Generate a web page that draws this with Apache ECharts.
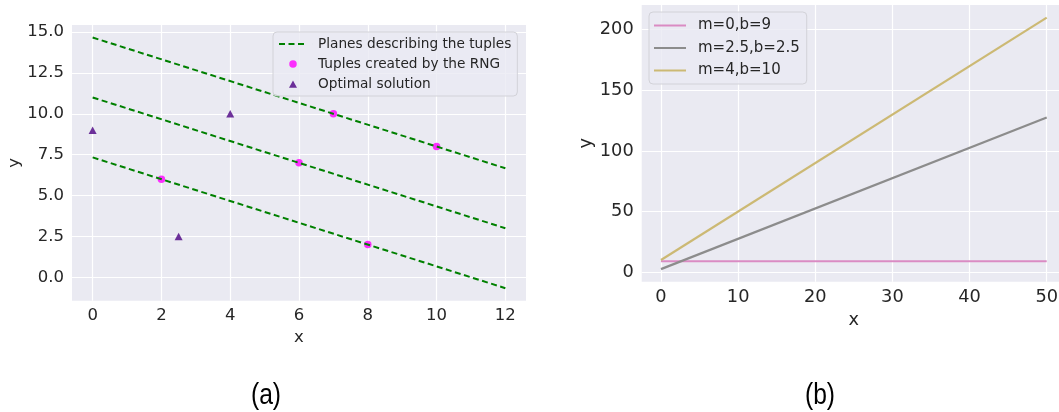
<!DOCTYPE html>
<html>
<head>
<meta charset="utf-8">
<script src="https://cdn.jsdelivr.net/npm/echarts@6/dist/echarts.min.js"></script>
<style>
  html, body { margin: 0; padding: 0; background: #ffffff; }
  #chart { width: 1059px; height: 412px; }
</style>
</head>
<body>
<div id="chart"></div>
<script>
// ---- Panel (a): tuples, planes and optimal solutions ----
const planeTop = [[0, 14.667], [12, 6.667]];
const planeMid = [[0, 11.0], [12, 3.0]];
const planeLow = [[0, 7.333], [12, -0.667]];
const rngTuples = [[2, 6], [6, 7], [7, 10], [8, 2], [10, 8]];
const optimal = [[0, 9], [2.5, 2.5], [4, 10]];
const xTicksA = [0, 2, 4, 6, 8, 10, 12];
const yTicksA = [0, 2.5, 5, 7.5, 10, 12.5, 15];

// ---- Panel (b): lines y = m*x + b ----
const lineM0 = [[0, 9], [50, 9]];
const lineM25 = [[0, 2.5], [50, 127.5]];
const lineM4 = [[0, 10], [50, 210]];
const xTicksB = [0, 10, 20, 30, 40, 50];
const yTicksB = [0, 50, 100, 150, 200];

const FONT = 'DejaVu Sans';
const INK = '#262626';
const PANEL_BG = '#EAEAF2';

// Legend glyphs. Each path carries a tiny anchor rect at its far edge so the
// glyph keeps its width inside the legend slot and the label sits after a gap.
const ICON_DASH = 'path://M0,0h6v2h-6z M9.5,0h6v2h-6z M19,0h6v2h-6z M34,0h0.01v2h-0.01z';
const ICON_DOT = 'path://M0,0h0.01v0.01h-0.01z M10.25,4a3.75,3.75 0 1,0 7.5,0a3.75,3.75 0 1,0 -7.5,0z M34,8h0.01v-0.01h-0.01z';
const ICON_TRI = 'path://M0,0h0.01v0.01h-0.01z M10,7.7L14,0.5L18,7.7z M34,8h0.01v-0.01h-0.01z';
const ICON_LINE = 'path://M0,0h32v2.2h-32z M39,0h0.01v2.2h-0.01z';

function axisCommon(ticks, fontSize, fmt, margin) {
  return {
    axisLine: { show: false },
    axisTick: { show: false, customValues: ticks },
    axisLabel: {
      customValues: ticks,
      color: INK, fontFamily: FONT, fontSize: fontSize, margin: margin,
      formatter: fmt
    },
    splitLine: { show: true, lineStyle: { color: '#ffffff', width: 1.2 } }
  };
}

const chart = echarts.init(document.getElementById('chart'), null, { renderer: 'canvas' });

chart.setOption({
  animation: false,
  backgroundColor: '#ffffff',
  grid: [
    { left: 72, top: 25, width: 454, height: 275.7, outerBoundsMode: 'none',
      show: true, backgroundColor: PANEL_BG, borderWidth: 0 },
    { left: 641.7, top: 5, width: 424.3, height: 276.7, outerBoundsMode: 'none',
      show: true, backgroundColor: PANEL_BG, borderWidth: 0 }
  ],
  xAxis: [
    Object.assign({
      type: 'value', gridIndex: 0, min: -0.6, max: 12.6,
      name: 'x', nameLocation: 'middle', nameGap: 21,
      nameTextStyle: { color: INK, fontFamily: FONT, fontSize: 16.5 }
    }, axisCommon(xTicksA, 16.5, v => String(v), 7)),
    Object.assign({
      type: 'value', gridIndex: 1, min: -2.5, max: 52.5,
      name: 'x', nameLocation: 'middle', nameGap: 30,
      nameTextStyle: { color: INK, fontFamily: FONT, fontSize: 17.8 }
    }, axisCommon(xTicksB, 17.8, v => String(v), 7))
  ],
  yAxis: [
    Object.assign({
      type: 'value', gridIndex: 0, min: -1.433, max: 15.433,
      name: 'y', nameLocation: 'middle', nameGap: 46,
      nameTextStyle: { color: INK, fontFamily: FONT, fontSize: 16.5 }
    }, axisCommon(yTicksA, 16.5, v => v.toFixed(1), 8)),
    Object.assign({
      type: 'value', gridIndex: 1, min: -7.875, max: 220.375,
      name: 'y', nameLocation: 'middle', nameGap: 46,
      nameTextStyle: { color: INK, fontFamily: FONT, fontSize: 17.8 }
    }, axisCommon(yTicksB, 17.8, v => String(v), 8))
  ],
  legend: [
    {
      orient: 'vertical', left: 273, top: 32,
      padding: [4, 6, 4, 6], itemGap: 4, itemWidth: 34, itemHeight: 8,
      backgroundColor: 'rgba(234,234,242,0.8)', borderColor: '#d2d2d8', borderWidth: 1, borderRadius: 4,
      textStyle: { color: INK, fontFamily: FONT, fontSize: 13.7, lineHeight: 16 },
      data: [
        { name: 'Planes describing the tuples', icon: ICON_DASH, itemStyle: { color: '#008000' } },
        { name: 'Tuples created by the RNG', icon: ICON_DOT, itemStyle: { color: '#FF00FF' } },
        { name: 'Optimal solution', icon: ICON_TRI, itemStyle: { color: '#4B0082' } }
      ]
    },
    {
      orient: 'vertical', left: 649, top: 12,
      padding: [5, 7, 5, 5], itemGap: 5.5, itemWidth: 39, itemHeight: 8,
      backgroundColor: 'rgba(234,234,242,0.8)', borderColor: '#d2d2d8', borderWidth: 1, borderRadius: 4,
      textStyle: { color: INK, fontFamily: FONT, fontSize: 15, lineHeight: 17 },
      data: [
        { name: 'm=0,b=9', icon: ICON_LINE, itemStyle: { color: '#DA8BC3' } },
        { name: 'm=2.5,b=2.5', icon: ICON_LINE, itemStyle: { color: '#8C8C8C' } },
        { name: 'm=4,b=10', icon: ICON_LINE, itemStyle: { color: '#CCB974' } }
      ]
    }
  ],
  series: [
    // panel (a)
    {
      name: 'Tuples created by the RNG', type: 'scatter', xAxisIndex: 0, yAxisIndex: 0,
      data: rngTuples, symbol: 'circle', symbolSize: 7.5,
      itemStyle: { color: '#FF00FF' }, z: 2
    },
    {
      name: 'Optimal solution', type: 'scatter', xAxisIndex: 0, yAxisIndex: 0,
      data: optimal, symbol: 'triangle', symbolSize: [8, 7.5],
      itemStyle: { color: '#4B0082' }, z: 2
    },
    ...[planeTop, planeMid, planeLow].map(d => ({
      name: 'Planes describing the tuples', type: 'line', xAxisIndex: 0, yAxisIndex: 0,
      data: d, symbol: 'none', z: 3,
      lineStyle: { color: '#008000', width: 2, type: [6, 3.5] },
      itemStyle: { color: '#008000' }
    })),
    // panel (b)
    {
      name: 'm=0,b=9', type: 'line', xAxisIndex: 1, yAxisIndex: 1, data: lineM0, symbol: 'none',
      lineStyle: { color: '#DA8BC3', width: 2.2 }, itemStyle: { color: '#DA8BC3' }
    },
    {
      name: 'm=2.5,b=2.5', type: 'line', xAxisIndex: 1, yAxisIndex: 1, data: lineM25, symbol: 'none',
      lineStyle: { color: '#8C8C8C', width: 2.2 }, itemStyle: { color: '#8C8C8C' }
    },
    {
      name: 'm=4,b=10', type: 'line', xAxisIndex: 1, yAxisIndex: 1, data: lineM4, symbol: 'none',
      lineStyle: { color: '#CCB974', width: 2.2 }, itemStyle: { color: '#CCB974' }
    }
  ],
  graphic: [
    {
      type: 'text', x: 266, y: 396, scaleX: 0.82,
      style: { text: '(a)', fill: '#000000', font: '30px "Liberation Sans"', align: 'center', verticalAlign: 'middle' }
    },
    {
      type: 'text', x: 820, y: 396, scaleX: 0.82,
      style: { text: '(b)', fill: '#000000', font: '30px "Liberation Sans"', align: 'center', verticalAlign: 'middle' }
    }
  ]
});
</script>
</body>
</html>
